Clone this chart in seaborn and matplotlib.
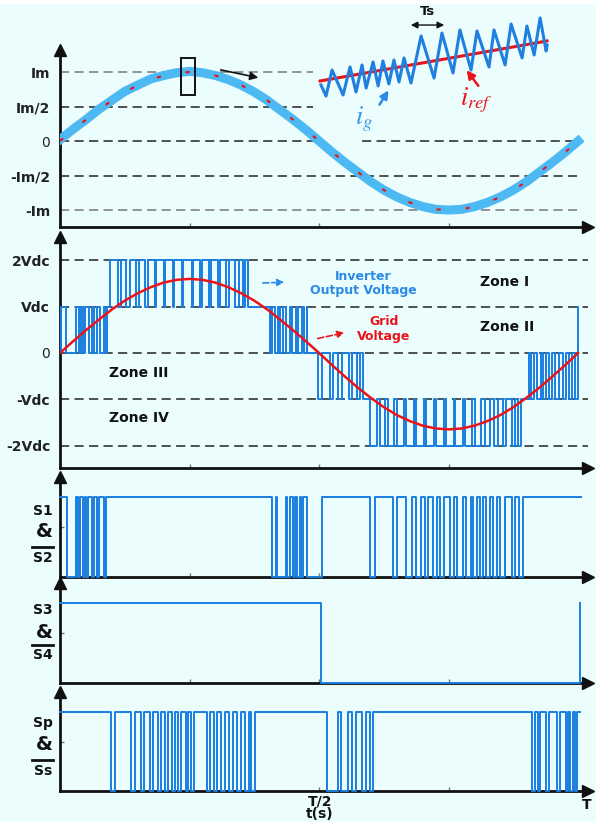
import matplotlib
matplotlib.use("Agg")
import matplotlib.pyplot as plt
import seaborn as sns
from matplotlib.lines import Line2D
from matplotlib.patches import Rectangle

plt.rcParams['font.family'] = ['DejaVu Sans']
plt.rcParams['mathtext.fontset'] = 'stix'

# ---------------- data ----------------
t_wave = [0.0, 0.025, 0.05, 0.075, 0.1, 0.125, 0.15, 0.175, 0.2, 0.225, 0.25,
          0.275, 0.3, 0.325, 0.35, 0.375, 0.4, 0.425, 0.45, 0.475, 0.5,
          0.525, 0.55, 0.575, 0.6, 0.625, 0.65, 0.675, 0.7, 0.725, 0.75,
          0.775, 0.8, 0.825, 0.85, 0.875, 0.9, 0.925, 0.95, 0.975, 1.0]
i_ref = [0, 0.16, 0.31, 0.45, 0.59, 0.71, 0.81, 0.89, 0.95, 0.99, 1.0,
         0.99, 0.95, 0.89, 0.81, 0.71, 0.59, 0.45, 0.31, 0.16, 0.0,
         -0.16, -0.31, -0.45, -0.59, -0.71, -0.81, -0.89, -0.95, -0.99, -1.0,
         -0.99, -0.95, -0.89, -0.81, -0.71, -0.59, -0.45, -0.31, -0.16, 0.0]
i_g = [0.02, 0.17, 0.31, 0.46, 0.59, 0.72, 0.81, 0.90, 0.95, 0.99, 1.01,
       0.99, 0.95, 0.89, 0.81, 0.71, 0.59, 0.45, 0.31, 0.16, 0.0,
       -0.16, -0.31, -0.45, -0.59, -0.71, -0.81, -0.89, -0.95, -0.99, -1.0,
       -0.99, -0.95, -0.89, -0.81, -0.71, -0.59, -0.45, -0.31, -0.16, 0.0]
v_grid = [0, 0.25, 0.49, 0.72, 0.94, 1.13, 1.29, 1.42, 1.52, 1.58, 1.60,
          1.58, 1.52, 1.42, 1.29, 1.13, 0.94, 0.72, 0.49, 0.25, 0.0,
          -0.26, -0.51, -0.75, -0.97, -1.17, -1.34, -1.47, -1.57, -1.63, -1.65,
          -1.63, -1.57, -1.47, -1.34, -1.17, -0.97, -0.75, -0.51, -0.26, 0.0]

# zoomed inset (fraction of window, normalised current)
zoom_t = [0.025, 0.046, 0.071, 0.117, 0.146, 0.171, 0.196, 0.213, 0.242, 0.263,
          0.283, 0.308, 0.329, 0.350, 0.371, 0.400, 0.442, 0.496, 0.529, 0.575,
          0.604, 0.650, 0.675, 0.725, 0.746, 0.792, 0.817, 0.863, 0.883, 0.913,
          0.938, 0.963, 0.967]
zoom_ig = [0.167, 0.044, 0.333, 0.056, 0.367, 0.089, 0.389, 0.133, 0.422, 0.156,
           0.433, 0.178, 0.444, 0.200, 0.467, 0.189, 0.711, 0.244, 0.744, 0.300,
           0.778, 0.333, 0.767, 0.367, 0.778, 0.389, 0.844, 0.467, 0.822, 0.500,
           0.911, 0.544, 0.611]
zoom_ref_t = [0.021, 0.967]
zoom_ref = [0.211, 0.656]

# inverter output voltage (in Vdc): segments with base level and pulse level
inv_seg_start = [0.0, 0.091, 0.095, 0.365, 0.477, 0.585, 0.905, 0.993]
inv_seg_base = [0, 1, 1, 1, 0, -1, 0, -1]
inv_seg_level = [1, 1, 2, 0, -1, -2, -1, -1]
inv_pulses_A = [(0.002, 0.012), (0.031, 0.036), (0.041, 0.045), (0.049, 0.056),
                (0.061, 0.066), (0.071, 0.078), (0.084, 0.088)]
inv_pulses_B = [(0.097, 0.112), (0.118, 0.128), (0.135, 0.146), (0.152, 0.165),
                (0.169, 0.183), (0.186, 0.200), (0.203, 0.218), (0.220, 0.236),
                (0.238, 0.254), (0.256, 0.271), (0.274, 0.288), (0.291, 0.304),
                (0.309, 0.320), (0.327, 0.337), (0.345, 0.353), (0.358, 0.363)]
inv_pulses_C = [(0.405, 0.410), (0.414, 0.420), (0.425, 0.431), (0.436, 0.444),
                (0.448, 0.456), (0.460, 0.467), (0.470, 0.476)]
inv_pulses_D = [(0.498, 0.506), (0.521, 0.527), (0.537, 0.544), (0.558, 0.564),
                (0.573, 0.579)]
inv_pulses_E = [(0.598, 0.612), (0.618, 0.628), (0.633, 0.645), (0.650, 0.664),
                (0.668, 0.684), (0.687, 0.703), (0.706, 0.722), (0.725, 0.741),
                (0.744, 0.760), (0.763, 0.778), (0.782, 0.796), (0.801, 0.813),
                (0.820, 0.830), (0.838, 0.846), (0.855, 0.861), (0.872, 0.878),
                (0.884, 0.890)]
inv_pulses_F = [(0.909, 0.914), (0.921, 0.928), (0.933, 0.938), (0.944, 0.949),
                (0.956, 0.963), (0.970, 0.976), (0.982, 0.988)]
inv_end = (1.0, 1)

# switching signals: low intervals
s1_low = [(0.013, 0.031), (0.035, 0.039), (0.045, 0.048), (0.051, 0.054),
          (0.061, 0.066), (0.071, 0.076), (0.084, 0.089),
          (0.409, 0.417), (0.419, 0.436), (0.439, 0.444), (0.449, 0.454),
          (0.457, 0.463), (0.466, 0.469), (0.476, 0.505),
          (0.599, 0.608),
          (0.643, 0.650), (0.668, 0.679), (0.687, 0.697), (0.704, 0.710),
          (0.720, 0.727), (0.733, 0.741), (0.753, 0.761), (0.766, 0.778),
          (0.783, 0.793), (0.797, 0.805), (0.810, 0.817), (0.822, 0.830),
          (0.836, 0.843), (0.849, 0.858), (0.872, 0.878), (0.885, 0.893)]
s1_end = 1.005
s3_t = [0.0, 0.504, 1.003]
s3_v = [1, 0, 1]
sp_low = [(0.098, 0.106),
          (0.137, 0.145), (0.156, 0.162), (0.174, 0.180), (0.189, 0.195),
          (0.203, 0.208), (0.216, 0.222), (0.228, 0.234), (0.243, 0.247),
          (0.253, 0.259), (0.284, 0.290), (0.297, 0.303), (0.311, 0.319),
          (0.326, 0.334), (0.342, 0.349), (0.357, 0.365), (0.369, 0.376),
          (0.515, 0.537), (0.542, 0.556), (0.564, 0.571), (0.583, 0.591),
          (0.598, 0.604),
          (0.911, 0.917), (0.923, 0.927), (0.938, 0.944), (0.959, 0.965),
          (0.977, 0.981), (0.985, 0.990), (0.994, 0.998)]
sp_end = 1.003

i_levels = [1, 0.5, 0, -0.5, -1]
i_labels = ['Im', 'Im/2', '0', '-Im/2', '-Im']
v_levels = [2, 1, 0, -1, -2]
v_labels = ['2Vdc', 'Vdc', '0', '-Vdc', '-2Vdc']


def train(t0, base, level, pulses):
    ts, vs = [t0], [base]
    for s, e in pulses:
        ts += [s, e]
        vs += [level, base]
    return ts, vs


inv_t, inv_v = [], []
for st, b, lv, pl in zip(inv_seg_start, inv_seg_base, inv_seg_level,
                         [inv_pulses_A, [], inv_pulses_B, inv_pulses_C,
                          inv_pulses_D, inv_pulses_E, inv_pulses_F, []]):
    a, c = train(st, b, lv, pl)
    inv_t += a
    inv_v += c
inv_t.append(inv_end[0])
inv_v.append(inv_end[1])

s1_t, s1_v = train(0.0, 1, 0, s1_low)
s1_t.append(s1_end); s1_v.append(1)
sp_t, sp_v = train(0.0, 1, 0, sp_low)
sp_t.append(sp_end); sp_v.append(1)

# ---------------- figure ----------------
BG = '#ebfdfd'
W, H = 596, 822
BLUE = '#1a7fe0'
LBLUE = '#4cb9f2'
RED = '#e8141a'
fig = plt.figure(figsize=(W / 100, H / 100), dpi=100, facecolor=BG)
fig.add_artist(Rectangle((0, 1 - 3 / H), 1, 3 / H, transform=fig.transFigure,
                         color='white', zorder=0))


def fx(x):
    return x / W


def fy(y):
    return 1 - y / H


def make_ax(top, bottom, ylim):
    ax = fig.add_axes([fx(60), fy(bottom), (588 - 60) / W, (bottom - top) / H])
    ax.set_facecolor('none')
    ax.set_xlim(0, 1.019)
    ax.set_ylim(*ylim)
    for s in ['top', 'right']:
        ax.spines[s].set_visible(False)
    for s in ['left', 'bottom']:
        ax.spines[s].set_linewidth(2.0)
        ax.spines[s].set_color('#111111')
    ax.plot(1, 0, '>', transform=ax.transAxes, clip_on=False, ms=8,
            color='#111111', zorder=10)
    ax.plot(0, 1, '^', transform=ax.transAxes, clip_on=False, ms=8,
            color='#111111', zorder=10)
    ax.set_xticks([0.25, 0.5, 0.75])
    ax.set_xticklabels([])
    ax.tick_params(axis='x', direction='in', length=3, color='#777777', width=1)
    ax.tick_params(axis='y', length=0, pad=7)
    return ax


def dashed(ax, y, x0=0.0, x1=1.0, color='#222222'):
    ax.axhline(y, x0, x1, color=color, lw=1.1, dashes=(6, 3.5), zorder=1)


# ---- panel 1: currents ----
ax1 = make_ax(50, 227, (-1.246, 1.32))
ax1.set_yticks(i_levels)
ax1.set_yticklabels(i_labels, fontsize=10, fontweight='bold', color='#222222')
ax1.get_yticklabels()[2].set_fontweight('normal')
dashed(ax1, 1, 0, 0.479, '#777777')
dashed(ax1, 0.5, 0, 0.479)
dashed(ax1, 0, 0, 0.479)
dashed(ax1, 0, 0.572, 0.979)
dashed(ax1, -0.5, 0, 0.98)
dashed(ax1, -1, 0, 0.98, '#777777')
sns.lineplot(x=t_wave, y=i_g, ax=ax1, color=LBLUE, linewidth=6.5,
             estimator=None, sort=False, legend=False, zorder=3)
sns.lineplot(x=t_wave, y=i_ref, ax=ax1, color=RED, linewidth=1.5,
             estimator=None, sort=False, legend=False, zorder=4,
             dashes=False)
ax1.lines[-1].set_dashes((2, 12))
ax1.add_patch(Rectangle((0.234, 0.67), 0.027, 0.53, fill=False, ec='#111111',
                        lw=1.4, zorder=6))
ax1.annotate('', xy=(0.388, 0.91), xytext=(0.305, 1.04),
             arrowprops=dict(arrowstyle='-|>', color='#111111', lw=1.2,
                             mutation_scale=12))

# inset
axi = fig.add_axes([fx(315), fy(100), 240 / W, 90 / H])
axi.set_xlim(0, 1)
axi.set_ylim(0, 1)
axi.axis('off')
sns.lineplot(x=zoom_ref_t, y=zoom_ref, ax=axi, color=RED, linewidth=2.2,
             estimator=None, sort=False, legend=False, zorder=2)
sns.lineplot(x=zoom_t, y=zoom_ig, ax=axi, color='#1f80e0', linewidth=2.2,
             estimator=None, sort=False, legend=False, zorder=3)
axi.annotate('', xy=(0.3875, 0.833), xytext=(0.55, 0.833),
             arrowprops=dict(arrowstyle='<|-|>', color='#111111', lw=1.0,
                             mutation_scale=10))
axi.text(0.467, 0.978, 'Ts', ha='center', va='center', fontsize=9.5,
         fontweight='bold', color='#111111')
axi.text(0.167, -0.27, r'$\mathit{i}_{\mathit{g}}$', color='#3a9ae8',
         fontsize=19, ha='left', va='baseline', clip_on=False)
axi.text(0.606, -0.06, r'$\mathit{i}_{\mathit{ref}}$', color=RED, fontsize=19,
         ha='left', va='baseline', clip_on=False)
axi.annotate('', xy=(0.3125, 0.133), xytext=(0.2625, -0.078),
             arrowprops=dict(arrowstyle='-|>', color='#2a8ae6', lw=1.8,
                             mutation_scale=12), annotation_clip=False)
axi.annotate('', xy=(0.625, 0.356), xytext=(0.6875, 0.133),
             arrowprops=dict(arrowstyle='-|>', color=RED, lw=1.8,
                             mutation_scale=12), annotation_clip=False)

# ---- panel 2: voltages ----
ax2 = make_ax(237, 468, (-2.484, 2.505))
ax2.set_yticks(v_levels)
ax2.set_yticklabels(v_labels, fontsize=10, fontweight='bold', color='#222222')
ax2.get_yticklabels()[2].set_fontweight('normal')
for lv in v_levels:
    dashed(ax2, lv, 0, 1.0)
sns.lineplot(x=inv_t, y=inv_v, ax=ax2, color=BLUE, linewidth=1.4,
             estimator=None, sort=False, legend=False, zorder=3,
             drawstyle='steps-post')
sns.lineplot(x=t_wave, y=v_grid, ax=ax2, color=RED, linewidth=1.8,
             estimator=None, sort=False, legend=False, zorder=4)
zkw = dict(fontsize=10, fontweight='bold', color='#111111', va='center')
ax2.text(0.811, 1.53, 'Zone I', ha='left', **zkw)
ax2.text(0.811, 0.56, 'Zone II', ha='left', **zkw)
ax2.text(0.095, -0.43, 'Zone III', ha='left', **zkw)
ax2.text(0.095, -1.40, 'Zone IV', ha='left', **zkw)
ax2.text(0.585, 1.66, 'Inverter', ha='center', va='center', fontsize=9,
         fontweight='bold', color='#2a8ae6')
ax2.text(0.585, 1.34, 'Output Voltage', ha='center', va='center', fontsize=9,
         fontweight='bold', color='#2a8ae6')
ax2.text(0.625, 0.67, 'Grid', ha='center', va='center', fontsize=9,
         fontweight='bold', color=RED)
ax2.text(0.625, 0.35, 'Voltage', ha='center', va='center', fontsize=9,
         fontweight='bold', color=RED)
ax2.annotate('', xy=(0.438, 1.53), xytext=(0.386, 1.51),
             arrowprops=dict(arrowstyle='-|>', color='#2a8ae6', lw=1.2,
                             linestyle='--', mutation_scale=10))
ax2.annotate('', xy=(0.554, 0.45), xytext=(0.492, 0.30),
             arrowprops=dict(arrowstyle='-|>', color=RED, lw=1.2,
                             linestyle='--', mutation_scale=10))

# ---- panels 3-5: switching signals ----
ax3 = make_ax(477, 577, (0, 1.25))
ax4 = make_ax(583, 683, (0, 1.25))
ax5 = make_ax(692, 791, (0, 1.25))
for ax, tt, vv in [(ax3, s1_t, s1_v), (ax4, s3_t, s3_v), (ax5, sp_t, sp_v)]:
    ax.set_yticks([0.625])
    ax.set_yticklabels([])
    ax.tick_params(axis='y', direction='in', length=3, color='#777777', width=1)
    sns.lineplot(x=tt, y=vv, ax=ax, color=BLUE, linewidth=1.4,
                 estimator=None, sort=False, legend=False, zorder=3,
                 drawstyle='steps-post')
    for ln in ax.lines:
        ln.set_clip_on(False)

lab = dict(fontweight='bold', color='#111111', ha='center', va='center')
for (a, b), yy in zip([('S1', 'S2'), ('S3', 'S4'), ('Sp', 'Ss')],
                      [(511, 531, 547, 558), (610, 632, 645, 655),
                       (723, 745, 760, 771)]):
    fig.text(fx(43), fy(yy[0]), a, fontsize=10, **lab)
    fig.text(fx(44), fy(yy[1]), '&', fontsize=14, **lab)
    fig.add_artist(Line2D([fx(32), fx(53)], [fy(yy[2]), fy(yy[2])],
                          color='#111111', lw=2.0))
    fig.text(fx(43), fy(yy[3]), b, fontsize=10, **lab)

fig.text(fx(320), fy(801), 'T/2', fontsize=10, **lab)
fig.text(fx(587), fy(805), 'T', fontsize=10, **lab)
fig.text(fx(320), fy(814), 't(s)', fontsize=10, **lab)

fig.savefig('out.png', dpi=100, facecolor=BG)
